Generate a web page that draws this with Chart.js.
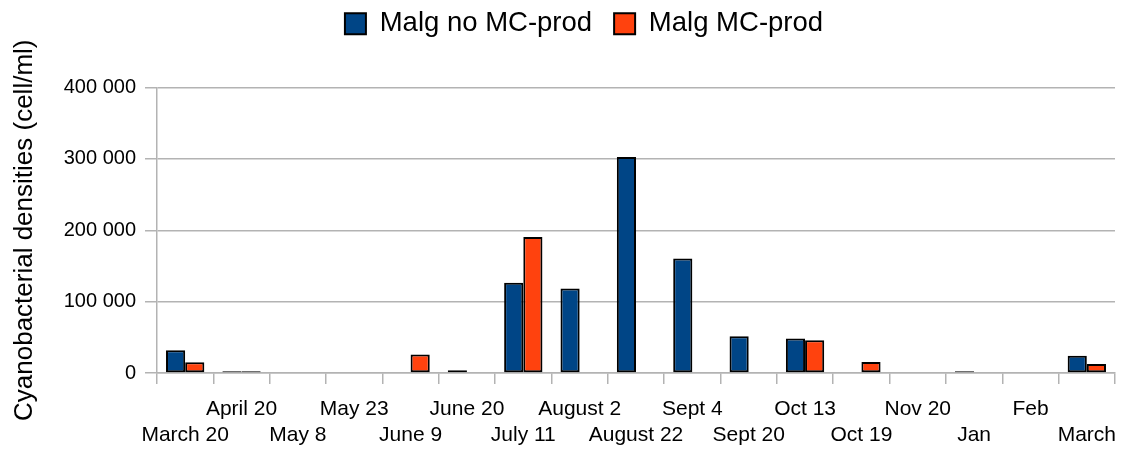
<!DOCTYPE html>
<html><head><meta charset="utf-8">
<script src="https://cdn.jsdelivr.net/npm/chart.js@4"></script>
<style>html,body{margin:0;padding:0;background:#fff}#wrap{width:1128px;height:450px}</style>
</head><body><div id="wrap"><canvas id="c" width="1128" height="450"></canvas></div>
<script>
const categories = ['March 20','April 20','May 8','May 23','June 9','June 20','July 11','August 2','August 22','Sept 4','Sept 20','Oct 13','Oct 19','Nov 20','Jan','Feb','March'];
const malgNoMcProd = [32000, 2500, 0, 0, 0, 4000, 126500, 118500, 302500, 160500, 51500, 48500, 0, 0, 2500, 0, 24000];
const malgMcProd   = [15000, 2500, 0, 0, 26000, 0, 190500, 0, 0, 0, 0, 46000, 15500, 0, 0, 0, 12500];
const seriesNames = ['Malg no MC-prod', 'Malg MC-prod'];
const yTicks = [0, 100000, 200000, 300000, 400000];
const yTitle = 'Cyanobacterial densities (cell/ml)';

const FONT = 'Liberation Sans, Arial, sans-serif';
const fmt = v => String(v).replace(/\B(?=(\d{3})+(?!\d))/g, ' ');

const legendSpacer = {
  id: 'legendSpacer',
  afterInit(chart) {
    const lg = chart.legend;
    const f = lg.fit.bind(lg);
    lg.fit = function () { f(); this.height += 28; };
  },
  afterLayout(chart) {
    chart.legend.left += 20;
    chart.legend.right += 20;
    chart.legend.top -= 12;
    chart.legend.bottom -= 12;
  }
};

new Chart(document.getElementById('c'), {
  type: 'bar',
  data: {
    labels: categories,
    datasets: [
      {label: seriesNames[0], data: malgNoMcProd, backgroundColor: '#004586', borderColor: '#000', borderWidth: 2, borderSkipped: false, categoryPercentage: 0.68, barPercentage: 1.0},
      {label: seriesNames[1], data: malgMcProd, backgroundColor: '#ff420e', borderColor: '#000', borderWidth: 2, borderSkipped: false, categoryPercentage: 0.68, barPercentage: 1.0}
    ]
  },
  plugins: [legendSpacer],
  options: {
    responsive: false,
    animation: false,
    layout: {padding: {left: 0, right: 0, top: 0, bottom: 0}},
    plugins: {
      legend: {position: 'top', labels: {font: {family: FONT, size: 27.5}, color: '#000', boxWidth: 21, boxHeight: 21, padding: 22}},
      tooltip: {enabled: false}
    },
    scales: {
      x: {
        grid: {display: true, drawOnChartArea: false, drawTicks: true, tickLength: 11, offset: true, color: '#b3b3b3', lineWidth: 1.5},
        border: {display: true, color: '#b3b3b3', width: 1.5},
        ticks: {autoSkip: false, maxRotation: 0, minRotation: 0, padding: 12, color: '#000',
          font: {family: FONT, size: 21, lineHeight: 26 / 21},
          callback: (v, i) => (i % 2 ? [categories[i], ''] : ['', categories[i]])},
        afterFit: s => { s.height = 77; }
      },
      y: {
        min: 0, max: 400000,
        afterBuildTicks: s => { s.ticks = yTicks.map(v => ({value: v})); },
        ticks: {padding: 9, color: '#000', font: {family: FONT, size: 20}, callback: v => fmt(v)},
        grid: {color: '#b3b3b3', lineWidth: 1.5, tickLength: 12},
        border: {color: '#b3b3b3', width: 1.5},
        title: {display: true, text: yTitle, color: '#000', font: {family: FONT, size: 26}, padding: {top: 9, bottom: 0}},
        afterFit: s => { s.width = 157; }
      }
    }
  }
});
</script></body></html>
